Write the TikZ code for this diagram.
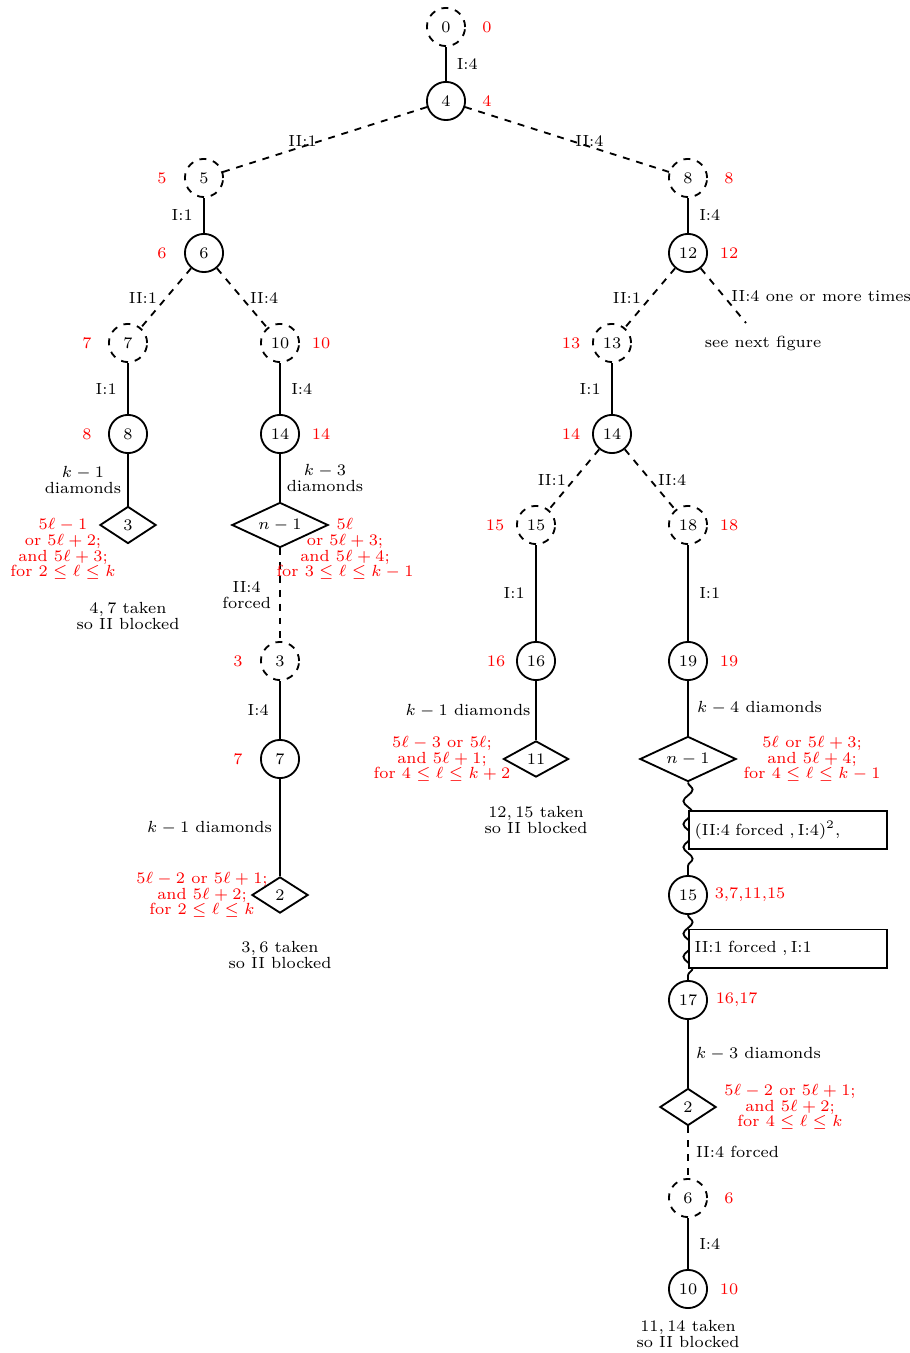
\documentclass[tikz,border=0pt]{standalone}
\usetikzlibrary{shapes.geometric,decorations.pathmorphing}
\newcommand{\dgfont}{\fontsize{7}{6.9}\selectfont}
\begin{document}
\begin{tikzpicture}[x=0.4345pt,y=-0.4345pt,
  every node/.style={font=\dgfont,inner sep=1pt},
  st/.style={circle,draw,thick,minimum size=16.58pt,inner sep=0pt},
  ds/.style={st,dashed},
  dm/.style={diamond,draw,thick,inner sep=0.5pt,aspect=1.5,minimum width=24.4pt,minimum height=16.1pt},
  dmw/.style={dm,aspect=2,minimum width=41.8pt,minimum height=19.6pt},
  rl/.style={text=red,align=center},
  note/.style={align=center},
  box/.style={draw,thick,fill=white,anchor=west,minimum height=16.58pt,text width=81.1pt,inner xsep=2.5pt,inner ysep=1pt,align=left},
  wavy/.style={thick,decorate,decoration={snake,amplitude=2pt,segment length=10pt}},
  e/.style={thick},
  ed/.style={thick,dashed}]
\useasboundingbox (0,0) rectangle (909,1353);

% tree nodes
\node[ds] (n0) at (446,27) {0};
\node[st] (n4) at (446,101) {4};
\node[ds] (n5) at (204,178) {5};
\node[ds] (n8r) at (688,178) {8};
\node[st] (n6) at (204,253) {6};
\node[st] (n12) at (688,253) {12};
\node[ds] (n7) at (128,343) {7};
\node[ds] (n10) at (280,343) {10};
\node[ds] (n13) at (612,343) {13};
\coordinate (nx) at (746,323);
\node (see) at (763,343) {see next figure};
\node[st] (n8) at (128,434) {8};
\node[st] (n14l) at (280,434) {14};
\node[st] (n14r) at (612,434) {14};
\node[dm] (d3) at (128,525) {3};
\node[dmw] (dnl) at (280,525) {$n-1$};
\node[ds] (n15l) at (536,525) {15};
\node[ds] (n18) at (688,525) {18};
\node[ds] (n3) at (280,661) {3};
\node[st] (n16) at (536,661) {16};
\node[st] (n19) at (688,661) {19};
\node[st] (n7b) at (280,759) {7};
\node[dm,minimum width=28.3pt,minimum height=15.7pt] (d11) at (536,759) {11};
\node[dmw] (dnr) at (688,759) {$n-1$};
\node[dm,minimum height=15.7pt] (d2l) at (280,895) {2};
\node[st] (n15r) at (688,895) {15};
\node[st] (n17) at (688,1000) {17};
\node[dm] (d2r) at (688,1107) {2};
\node[ds] (n6b) at (688,1198) {6};
\node[st] (n10b) at (688,1289) {10};

% connectors
\draw[e] (n0) -- node[right=3.3pt] (l1) {I:4} (n4);
\draw[ed] (n4) -- node[pos=0.61,yshift=2.6pt] (l2) {II:1} (n5);
\draw[ed] (n4) -- node[pos=0.61,yshift=2.6pt] (l3) {II:4} (n8r);
\draw[e] (n5) -- node[left=3.5pt] (l4) {I:1} (n6);
\draw[e] (n8r) -- node[right=3.5pt] (l5) {I:4} (n12);
\draw[ed] (n6) -- node[left=2.5pt] (l6) {II:1} (n7);
\draw[ed] (n6) -- node[right=2.1pt] (l7) {II:4} (n10);
\draw[ed] (n12) -- node[left=2.5pt] (l8) {II:1} (n13);
\draw[ed] (n12) -- node[right=2.1pt] (l9) {II:4 one or more times} (nx);
\draw[e] (n7) -- node[left=3.5pt] (l10) {I:1} (n8);
\draw[e] (n10) -- node[right=3.5pt] (l11) {I:4} (n14l);
\draw[e] (n13) -- node[left=3.5pt] (l12) {I:1} (n14r);
\draw[e] (n8) -- node[left=1.55pt,align=center] (l13) {$k-1$\\diamonds} (d3);
\draw[e] (n14l) -- node[right=1.55pt,align=center] (l14) {$k-3$\\diamonds} (dnl);
\draw[ed] (n14r) -- node[left=2.1pt] (l15) {II:1} (n15l);
\draw[ed] (n14r) -- node[right=2.1pt] (l16) {II:4} (n18);
\draw[ed] (dnl) -- node[left=2.5pt,align=center] (l17) {II:4\\forced} (n3);
\draw[e] (n15l) -- node[left=3.5pt] (l18) {I:1} (n16);
\draw[e] (n18) -- node[right=3.5pt] (l19) {I:1} (n19);
\draw[e] (n3) -- node[left=3.5pt] (l20) {I:4} (n7b);
\draw[e] (n16) -- node[left=1pt] (l21) {$k-1$ diamonds} (d11);
\draw[e] (n19) -- node[right=2.6pt] (l22) {$k-4$ diamonds} (dnr);
\draw[e] (n7b) -- node[left=2.1pt] (l23) {$k-1$ diamonds} (d2l);
\draw[e] (n17) -- node[right=2.1pt] (l24) {$k-3$ diamonds} (d2r);
\draw[ed] (d2r) -- node[right=2.1pt] (l25) {II:4 forced} (n6b);
\draw[e] (n6b) -- node[right=3.5pt] (l26) {I:4} (n10b);

% wavy path with boxes
\draw[wavy] (dnr.south) -- (n15r.north);
\draw[wavy] (n15r.south) -- (n17.north);
\node[box] (b1) at (688,830) {$(\mbox{II:4 forced }, \mbox{I:4})^2$,};
\node[box] (b2) at (688,948.5) {$\mbox{II:1 forced }, \mbox{I:1}$};

% red labels
\node[rl] (r0) at (487,27) {0};
\node[rl] (r4) at (487,101) {4};
\node[rl] (r5) at (162,178) {5};
\node[rl] (r8r) at (729,178) {8};
\node[rl] (r6) at (162,253) {6};
\node[rl] (r12) at (729,253) {12};
\node[rl] (r7) at (87,343) {7};
\node[rl] (r10) at (321,343) {10};
\node[rl] (r13) at (571,343) {13};
\node[rl] (r8) at (87,434) {8};
\node[rl] (r14l) at (321,434) {14};
\node[rl] (r14r) at (571,434) {14};
\node[rl] (r15l) at (495,525) {15};
\node[rl] (r18) at (729,525) {18};
\node[rl] (r3) at (238,661) {3};
\node[rl] (r16) at (496,661) {16};
\node[rl] (r19) at (729,661) {19};
\node[rl] (r7b) at (238,759) {7};
\node[rl] (r6b) at (729,1198) {6};
\node[rl] (r10b) at (729,1289) {10};
\node[rl,anchor=west] (r15r) at (712,895) {3,7,11,15};
\node[rl,anchor=west] (r17) at (713,1000) {16,17};

\node[rl] (c1) at (63,549) {$5\ell-1$\\or $5\ell+2$;\\and $5\ell+3$;\\for $2\le\ell\le k$};
\node[rl] (c2) at (345,549) {$5\ell$\\or $5\ell+3$;\\and $5\ell+4$;\\for $3\le\ell\le k-1$};
\node[rl] (c3) at (442,759) {$5\ell-3$ or $5\ell$;\\and $5\ell+1$;\\for $4\le\ell\le k+2$};
\node[rl] (c4) at (812,759) {$5\ell$ or $5\ell+3$;\\and $5\ell+4$;\\for $4\le\ell\le k-1$};
\node[rl] (c5) at (202,895) {$5\ell-2$ or $5\ell+1$;\\and $5\ell+2$;\\for $2\le\ell\le k$};
\node[rl] (c6) at (790,1107) {$5\ell-2$ or $5\ell+1$;\\and $5\ell+2$;\\for $4\le\ell\le k$};

% notes
\node[note] (t1) at (128,616) {$4, 7$ taken\\so II blocked};
\node[note] (t2) at (536,820) {$12, 15$ taken\\so II blocked};
\node[note] (t3) at (280,955) {$3, 6$ taken\\so II blocked};
\node[note] (t4) at (688,1334) {$11, 14$ taken\\so II blocked};
\end{tikzpicture}
\end{document}
